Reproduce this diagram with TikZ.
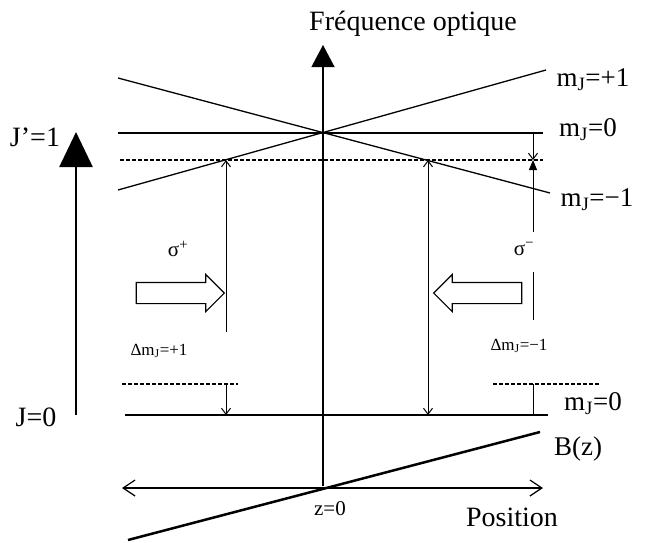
\documentclass[tikz,border=0pt]{standalone}
\usepackage{fontspec}
\setmainfont{Liberation Serif}
\usetikzlibrary{arrows.meta,shapes.arrows}

\begin{document}
\begin{tikzpicture}[x=1pt,y=-1pt,
  level/.style={line width=1.3pt},
  sublevel/.style={line width=1.3pt, dash pattern=on 3.5pt off 2.5pt},
  tipline/.style={line width=1pt},
  opentip/.style={-{Straight Barb[length=6pt,width=9pt]}},
  beam/.style={single arrow, draw, line width=1.1pt, minimum height=88pt,
               inner xsep=0pt, inner ysep=10pt, single arrow head extend=8pt},
  biglabel/.style={font=\fontsize{28}{28}\selectfont},
  mlabel/.style={font=\fontsize{27}{27}\selectfont},
  smalllabel/.style={font=\fontsize{17}{17}\selectfont},
  siglabel/.style={font=\fontsize{21}{21}\selectfont}
]
\useasboundingbox (0,0) rectangle (654,542);

% axes
\coordinate (axbot) at (323,486);
\coordinate (axtop) at (323,45);
\draw[line width=1.2pt, -{Triangle[length=22pt,width=23pt]}] (axbot) -- (axtop);
\node[biglabel] (freq) at (413,24) {Fréquence optique};

\coordinate (enbot) at (76,415);
\coordinate (entop) at (76,132);
\draw[line width=2.5pt, -{Triangle[length=35pt,width=33pt]}] (enbot) -- (entop);
\node[biglabel] (Jup) at (35,137) {J’=1};
\node[biglabel] (Jlow) at (36,417) {J=0};

% excited state J'=1
\coordinate (upL) at (118,133);
\coordinate (upR) at (543,133);
\coordinate (dotL) at (120,160);
\coordinate (dotR) at (543,160);
\coordinate (plusL) at (118,190);
\coordinate (plusR) at (546,70);
\coordinate (minL) at (118,78);
\coordinate (minR) at (550,193);
\draw[level] (upL) -- (upR);
\draw[sublevel] (dotL) -- (dotR);
\draw[level] (plusL) -- (plusR);
\draw[level] (minL) -- (minR);
\node[mlabel] (mplus) at (593,80) {m\textsubscript{J}=+1};
\node[mlabel] (mzero) at (588,130) {m\textsubscript{J}=0};
\node[mlabel] (mminus) at (597,200) {m\textsubscript{J}=−1};

% ground state J=0
\coordinate (lowL) at (125,415);
\coordinate (lowR) at (548,415);
\coordinate (slL) at (122,384);
\coordinate (slR) at (238,384);
\coordinate (srL) at (493,384);
\coordinate (srR) at (600,384);
\draw[level] (lowL) -- (lowR);
\draw[sublevel] (slL) -- (slR);
\draw[sublevel] (srL) -- (srR);
\node[mlabel] (mground) at (593,404) {m\textsubscript{J}=0};

% sigma+ transition
\coordinate (sp1) at (226,160);
\coordinate (sp2) at (226,332);
\coordinate (sp3) at (226,384);
\coordinate (sp4) at (226,415);
\draw[tipline, opentip] (sp2) -- (sp1);
\draw[tipline, opentip] (sp3) -- (sp4);
\node[siglabel] (sigp) at (178,249) {σ\textsuperscript{+}};
\node[smalllabel] (dmp) at (159,351) {Δm\textsubscript{J}=+1};

% middle transition
\coordinate (mid1) at (428,160);
\coordinate (mid2) at (428,415);
\draw[tipline, {Straight Barb[length=6pt,width=9pt]}-{Straight Barb[length=6pt,width=9pt]}] (mid1) -- (mid2);

% sigma- transition and detuning
\coordinate (sm0) at (533,133);
\coordinate (sm1) at (533,160);
\coordinate (sm2) at (533,232);
\coordinate (sm3) at (533,272);
\coordinate (sm4) at (533,320);
\coordinate (sm5) at (533,384);
\coordinate (sm6) at (533,415);
\draw[tipline, opentip] (sm0) -- (sm1);
\draw[tipline, -{Triangle[length=10pt,width=8pt]}] (sm2) -- (sm1);
\draw[tipline] (sm3) -- (sm4);
\draw[tipline] (sm5) -- (sm6);
\node[siglabel] (sigm) at (524,249) {σ\textsuperscript{−}};
\node[smalllabel] (dmm) at (519,346) {Δm\textsubscript{J}=−1};

% laser beams
\node[beam] (beamL) at (175,293) {};
\node[beam, shape border rotate=180] (beamR) at (483,293) {};

% position axis and field
\coordinate (posL) at (122,488);
\coordinate (posR) at (543,488);
\draw[line width=1.2pt, {Straight Barb[length=12pt,width=16pt]}-{Straight Barb[length=12pt,width=16pt]}] (posL) -- (posR);
\coordinate (bL) at (128,540);
\coordinate (bR) at (540,432);
\draw[line width=2.5pt] (bL) -- (bR);
\node[mlabel] (field) at (578,449) {B(z)};
\node[font=\fontsize{21}{21}\selectfont] (zzero) at (330,509) {z=0};
\node[biglabel] (pos) at (512,517) {Position};
\end{tikzpicture}
\end{document}
